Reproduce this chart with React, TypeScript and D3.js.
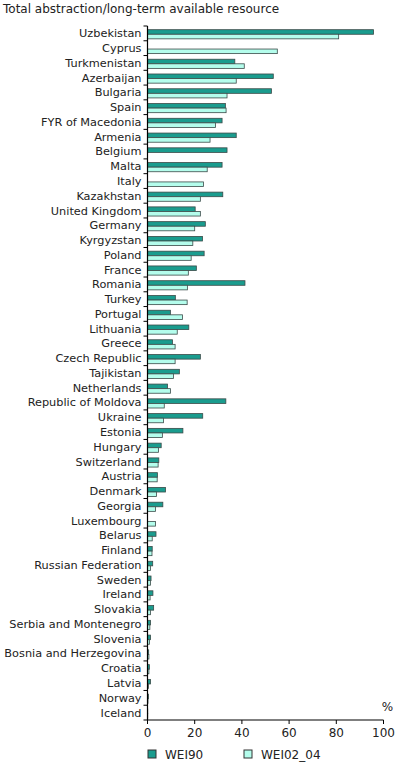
import * as d3 from "d3";

const width = 399;
const height = 768;
const marginTop = 26;
const marginLeft = 147.5;
const plotRight = 383.5;
const plotBottom = 720;

const countries = [
  "Uzbekistan", "Cyprus", "Turkmenistan", "Azerbaijan", "Bulgaria", "Spain",
  "FYR of Macedonia", "Armenia", "Belgium", "Malta", "Italy", "Kazakhstan",
  "United Kingdom", "Germany", "Kyrgyzstan", "Poland", "France", "Romania",
  "Turkey", "Portugal", "Lithuania", "Greece", "Czech Republic", "Tajikistan",
  "Netherlands", "Republic of Moldova", "Ukraine", "Estonia", "Hungary",
  "Switzerland", "Austria", "Denmark", "Georgia", "Luxembourg", "Belarus",
  "Finland", "Russian Federation", "Sweden", "Ireland", "Slovakia",
  "Serbia and Montenegro", "Slovenia", "Bosnia and Herzegovina", "Croatia",
  "Latvia", "Norway", "Iceland",
];

// null = no data
const wei90 = [
  95.8, null, 37, 53.3, 52.5, 33, 31.6, 37.6, 33.7, 31.6, null, 31.9,
  20.2, 24.5, 23.3, 24, 20.7, 41.3, 11.8, 9.7, 17.5, 10.6, 22.4, 13.5,
  8.5, 33.2, 23.4, 15, 5.8, 4.8, 4.2, 7.6, 6.5, null, 3.6, 2, 2.2, 1.5,
  2.3, 2.6, 1.3, 1.3, 0.5, 0.8, 1.3, 0.4, 0.1,
];
const wei02 = [
  81, 55, 41, 37.6, 33.7, 33.3, 28.8, 26.5, null, 25.3, 23.7, 22.4,
  22.4, 20, 19.2, 18.5, 17.3, 16.9, 16.8, 14.8, 12.6, 11.7, 11.7, 11,
  9.7, 7.1, 6.8, 6.3, 4.7, 4.5, 4.1, 3.8, 3.4, 3.4, 2, 1.9, 1.3, 1.3,
  1.1, 1.3, 1, 0.8, 0.6, 0.6, 0.4, 0.2, 0.1,
];

const seriesNames = ["WEI90", "WEI02_04"];
const seriesColors = ["#1a9c8e", "#b4fdec"];
const xTicks = [0, 20, 40, 60, 80, 100];

const font = "'DejaVu Sans', Verdana, sans-serif";

const App = () => {
  const x = d3.scaleLinear().domain([0, 100]).range([marginLeft, plotRight]);
  const y = d3.scaleBand<string>().domain(countries).range([marginTop, plotBottom]);
  const bw = y.bandwidth();
  const sub = d3
    .scaleBand<string>()
    .domain(seriesNames)
    .range([bw * 0.25, bw * 0.87]);

  const rows = countries.map((c, i) => ({ c, vals: [wei90[i], wei02[i]] }));

  return (
    <svg
      width={width}
      height={height}
      style={{ position: "absolute", left: 0, top: 0, background: "#fff" }}
      fontFamily={font}
    >
      <text x={3} y={13} fontSize={12} fill="#222">
        Total abstraction/long-term available resource
      </text>

      {rows.map(({ c, vals }) => (
        <g key={c} transform={`translate(0,${y(c)})`}>
          {vals.map((v, k) =>
            v == null ? null : (
              <rect
                key={k}
                x={x(0)}
                y={sub(seriesNames[k])}
                width={x(v) - x(0)}
                height={sub.bandwidth()}
                fill={seriesColors[k]}
                stroke="#3a4a48"
                strokeWidth={0.8}
              />
            )
          )}
          <text
            x={marginLeft - 6}
            y={bw / 2}
            dy="0.35em"
            textAnchor="end"
            fontSize={11.3}
            fill="#222"
          >
            {c}
          </text>
          <line x1={marginLeft - 4} x2={marginLeft} y1={0} y2={0} stroke="#000" />
        </g>
      ))}
      <line x1={marginLeft - 4} x2={marginLeft} y1={plotBottom} y2={plotBottom} stroke="#000" />

      {/* axes */}
      <line x1={marginLeft} x2={marginLeft} y1={marginTop} y2={plotBottom} stroke="#000" strokeWidth={1.2} />
      <line x1={marginLeft} x2={plotRight} y1={plotBottom} y2={plotBottom} stroke="#000" strokeWidth={1.2} />
      {xTicks.map((t) => (
        <g key={t} transform={`translate(${x(t)},${plotBottom})`}>
          <line y1={0} y2={4} stroke="#000" />
          <text y={17} textAnchor="middle" fontSize={12} fill="#222">
            {t}
          </text>
        </g>
      ))}
      <text x={plotRight + 4} y={plotBottom - 9} textAnchor="middle" fontSize={12} fill="#222">
        %
      </text>

      {/* legend */}
      {seriesNames.map((s, k) => (
        <g key={s} transform={`translate(${148 + k * 96},750)`}>
          <rect x={0} y={0} width={8} height={8} fill={seriesColors[k]} stroke="#333" strokeWidth={1} />
          <text x={17} y={9} fontSize={12} fill="#222">
            {s}
          </text>
        </g>
      ))}
    </svg>
  );
};

export default App;
